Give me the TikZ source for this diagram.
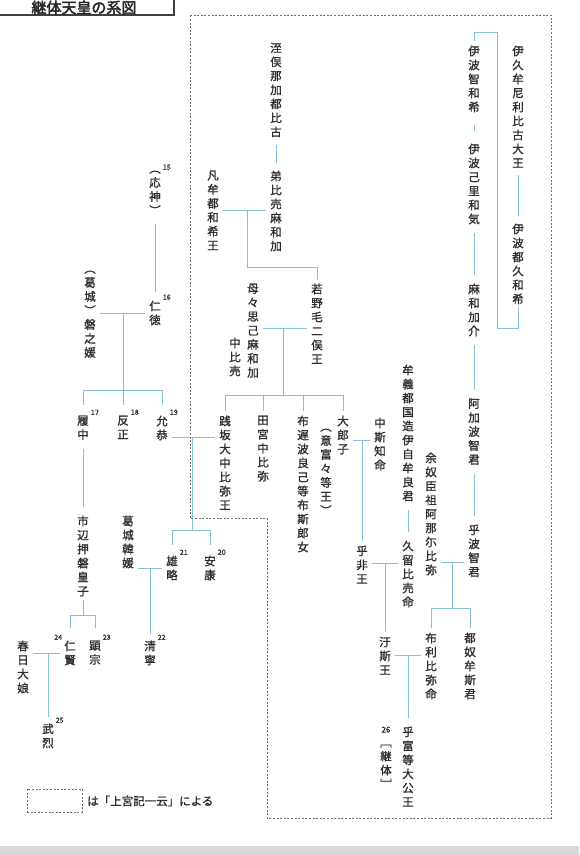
\documentclass[tikz,border=0pt]{standalone}
\usepackage{fontspec}
\setmainfont{Noto Sans CJK JP}[FakeBold=1.2]
\newfontfamily\titlefont{Noto Sans CJK JP}[FakeBold=2.5]
\usetikzlibrary{calc}
\definecolor{txt}{HTML}{2E2E2E}
\definecolor{lb}{HTML}{86C0D6}
\definecolor{dsh}{HTML}{707070}
\makeatletter
\newcommand\vt[1]{\vbox{\baselineskip=14pt\lineskiplimit=-20pt\lineskip=0pt\@tfor\vt@c:=#1\do{\hbox to 12pt{\hss\vt@c\hss}}}}
\makeatother
\begin{document}
\begin{tikzpicture}[x=1pt,y=-1pt,
  nm/.style={inner sep=0.5pt, text=txt, font=\fontsize{11.5}{14}\selectfont, anchor=north},
  num/.style={inner sep=0pt, text=txt, font=\fontsize{7}{8}\selectfont},
  nr/.style={label={[num, anchor=south west, xshift=1pt]north east:#1}},
  nl/.style={label={[num, anchor=south east, xshift=-1pt]north west:#1}},
  conn/.style={draw=lb, line width=0.8pt},
  dline/.style={draw=dsh, line width=0.8pt, dash pattern=on 2pt off 1.6pt}]
\useasboundingbox (0,0) rectangle (579,855);
\fill[white] (0,0) rectangle (579,855);
\fill[gray!30] (0,846) rectangle (579,855);

% title
\draw[line width=2pt, draw=black!75] (-5,-20) rectangle (174,15);
\node[font=\titlefont\fontsize{15}{16}\selectfont, text=black!85, anchor=base, inner sep=0pt] (title) at (84,13.2) {継体天皇の系図};

% dashed region
\draw[dline] (190,15) -- (551,15) -- (551,818) -- (267,818) -- (267,518) -- (190,518) -- cycle;

% right column (mother line)
\node[nm] (ikume) at (518,45) {\vt{伊久牟尼利比古大王}};
\node[nm] (iwatsuku) at (518,223) {\vt{伊波都久和希}};
\node[nm] (iwachi) at (474,45) {\vt{伊波智和希}};
\node[nm] (iwakori) at (474,143) {\vt{伊波己里和気}};
\node[nm] (mawaka) at (474,283) {\vt{麻和加介}};
\node[nm] (akahachi) at (474,398) {\vt{阿加波智君}};
\node[nm] (ohachi) at (474,524) {\vt{乎波智君}};
\node[nm] (anani) at (431,452) {\vt{余奴臣祖阿那尓比弥}};
\node[nm] (tsunu) at (470,632) {\vt{都奴牟斯君}};
\node[nm] (furihime) at (431,632) {\vt{布利比弥命}};
\node[nm] (muge) at (408,364) {\vt{牟義都国造伊自牟良君}};
\node[nm] (kuruhime) at (408,540) {\vt{久留比売命}};
\node[nm] (ushi) at (385,636) {\vt{汙斯王}};
\node[nm] (keitai) at (408,726) {\vt{乎富等大公王}};
\node[nm] (keitainum) at (386,726) {\vt{{\fontsize{8}{8}\selectfont 26}﹇継体﹈}};

% middle (father line)
\node[nm] (ohomata) at (276,42) {\vt{洷俣那加都比古}};
\node[nm] (otohime) at (276,170) {\vt{弟比売麻和加}};
\node[nm] (homuda) at (213,170) {\vt{凡牟都和希王}};
\node[nm] (wakanuke) at (317,283) {\vt{若野毛二俣王}};
\node[nm] (momo1) at (253,283) {\vt{母々思己麻和加}};
\node[nm] (momo2) at (235,337) {\vt{中比売}};
\node[nm] (sakanoe) at (225,415) {\vt{践坂大中比弥王}};
\node[nm] (tamiya) at (263,415) {\vt{田宮中比弥}};
\node[nm] (fuji) at (303,415) {\vt{布遅波良己等布斯郎女}};
\node[nm] (oiratsuko) at (343,415) {\vt{大郎子}};
\node[nm] (ohoho) at (326,428) {\vt{︵意富々等王︶}};
\node[nm] (nakashi) at (380,417) {\vt{中斯知命}};
\node[nm] (ohi) at (362,545) {\vt{乎非王}};

% left (Nihon shoki line)
\node[nm, nr=15] (ojin) at (155,170) {\vt{︵応神︶}};
\node[nm, nr=16] (nintoku) at (155,300) {\vt{仁徳}};
\node[nm] (iwanohime) at (90,270) {\vt{︵葛城︶磐之媛}};
\node[nm, nr=17] (richu) at (83,415) {\vt{履中}};
\node[nm, nr=18] (hanzei) at (123,415) {\vt{反正}};
\node[nm, nr=19] (ingyo) at (162,415) {\vt{允恭}};
\node[nm] (ichinobe) at (83,515) {\vt{市辺押磐皇子}};
\node[nm, nl=24] (ninken) at (70,640) {\vt{仁賢}};
\node[nm, nr=23] (kenzo) at (95,640) {\vt{顕宗}};
\node[nm] (kasuga) at (23,640) {\vt{春日大娘}};
\node[nm, nr=25] (buretsu) at (48,723) {\vt{武烈}};
\node[nm] (kara) at (128,515) {\vt{葛城韓媛}};
\node[nm, nr=21] (yuryaku) at (172,555) {\vt{雄略}};
\node[nm, nr=20] (anko) at (210,555) {\vt{安康}};
\node[nm, nr=22] (seinei) at (150,640) {\vt{清寧}};

% ---- connectors: right column
\draw[conn, shorten <=7pt, shorten >=7pt] (ikume) -- (iwatsuku);
\coordinate (bkB) at (497,328);
\coordinate (bkT) at (497,32);
\draw[conn, shorten <=3pt, shorten >=4pt] (iwatsuku.south) -- (iwatsuku.south |- bkB) -- (bkB) -- (bkT) -- (iwachi.north |- bkT) -- (iwachi.north);
\draw[conn, shorten <=12pt, shorten >=12pt] (iwachi) -- (iwakori);
\draw[conn, shorten <=8pt, shorten >=8pt] (iwakori) -- (mawaka);
\draw[conn, shorten <=8pt, shorten >=8pt] (mawaka) -- (akahachi);
\draw[conn, shorten <=8pt, shorten >=8pt] (akahachi) -- (ohachi);
\coordinate (j1) at (452,562);
\coordinate (b1) at (452,608);
\draw[conn, shorten <=3pt, shorten >=3pt] (anani.east |- j1) -- (ohachi.west |- j1);
\draw[conn] (j1) -- (b1);
\draw[conn, shorten <=4pt, shorten >=4pt] (furihime.north) -- (furihime.north |- b1) -- (tsunu.north |- b1) -- (tsunu.north);
\draw[conn, shorten <=8pt, shorten >=8pt] (muge) -- (kuruhime);
\coordinate (j2) at (385,563);
\draw[conn, shorten <=3pt, shorten >=3pt] (ohi.east |- j2) -- (kuruhime.west |- j2);
\draw[conn, shorten >=5pt] (j2) -- (ushi.north);
\coordinate (j3) at (408,655);
\draw[conn, shorten <=3pt, shorten >=3pt] (ushi.east |- j3) -- (furihime.west |- j3);
\draw[conn, shorten >=8pt] (j3) -- (keitai.north);

% ---- connectors: father line
\draw[conn, shorten <=7pt, shorten >=7pt] (ohomata) -- (otohime);
\coordinate (j4) at (247,210);
\coordinate (k4) at (247,267);
\draw[conn, shorten <=3pt, shorten >=3pt] (homuda.east |- j4) -- (otohime.west |- j4);
\draw[conn, shorten >=3pt] (j4) -- (k4) -- (wakanuke.north |- k4) -- (wakanuke.north);
\coordinate (j5) at (283,328);
\coordinate (b5) at (283,395);
\draw[conn, shorten <=3pt, shorten >=3pt] (momo1.east |- j5) -- (wakanuke.west |- j5);
\draw[conn] (j5) -- (b5);
\draw[conn, shorten <=4pt, shorten >=4pt] (sakanoe.north) -- (sakanoe.north |- b5) -- (oiratsuko.north |- b5) -- (oiratsuko.north);
\draw[conn, shorten >=4pt] (tamiya.north |- b5) -- (tamiya.north);
\draw[conn, shorten >=4pt] (fuji.north |- b5) -- (fuji.north);
\coordinate (j6) at (362,440);
\draw[conn, shorten <=3pt, shorten >=3pt] (oiratsuko.east |- j6) -- (nakashi.west |- j6);
\draw[conn, shorten >=4pt] (j6) -- (ohi.north);

% ---- connectors: left
\draw[conn, shorten <=8pt, shorten >=8pt] (ojin) -- (nintoku);
\coordinate (j7) at (123,313);
\coordinate (b7) at (123,390);
\draw[conn, shorten <=3pt, shorten >=3pt] (iwanohime.east |- j7) -- (nintoku.west |- j7);
\draw[conn] (j7) -- (b7);
\draw[conn, shorten <=10pt, shorten >=10pt] (richu.north) -- (richu.north |- b7) -- (ingyo.north |- b7) -- (ingyo.north);
\draw[conn, shorten >=10pt] (b7) -- (hanzei.north);
\coordinate (j8) at (192,437);
\coordinate (b8) at (192,530);
\draw[conn, shorten <=3pt, shorten >=3pt] (ingyo.east |- j8) -- (sakanoe.west |- j8);
\draw[conn] (j8) -- (b8);
\draw[conn, shorten <=10pt, shorten >=10pt] (yuryaku.north) -- (yuryaku.north |- b8) -- (anko.north |- b8) -- (anko.north);
\draw[conn, shorten <=8pt, shorten >=8pt] (richu) -- (ichinobe);
\coordinate (b9) at (83,615);
\draw[conn, shorten <=3pt] (ichinobe.south) -- (b9);
\draw[conn, shorten <=12pt, shorten >=12pt] (ninken.north) -- (ninken.north |- b9) -- (kenzo.north |- b9) -- (kenzo.north);
\coordinate (j10) at (150,568);
\draw[conn, shorten <=3pt, shorten >=3pt] (kara.east |- j10) -- (yuryaku.west |- j10);
\draw[conn, shorten >=6pt] (j10) -- (seinei.north);
\coordinate (j11) at (48,653);
\draw[conn, shorten <=3pt, shorten >=3pt] (kasuga.east |- j11) -- (ninken.west |- j11);
\draw[conn, shorten >=6pt] (j11) -- (buretsu.north);

% legend
\node[dline, minimum width=55pt, minimum height=23pt, inner sep=0pt] (lgbox) at (54.5,800.5) {};
\node[anchor=west, inner sep=0pt, text=txt, font=\fontsize{11.5}{12}\selectfont] (lgtxt) at (87,801) {は「上宮記一云」による};
\end{tikzpicture}
\end{document}
